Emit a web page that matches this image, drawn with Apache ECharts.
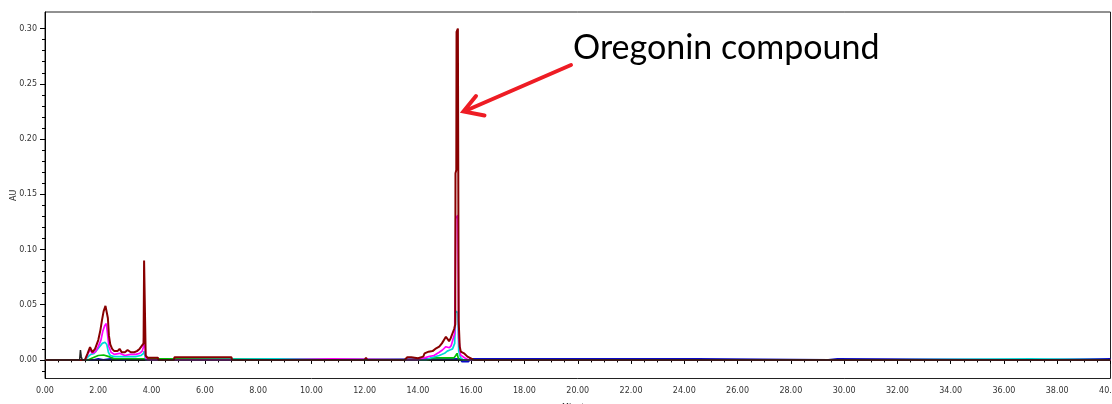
<!DOCTYPE html>
<html>
<head>
<meta charset="utf-8">
<script src="https://cdn.jsdelivr.net/npm/echarts@6/dist/echarts.min.js"></script>
<style>
html,body{margin:0;padding:0;background:#fff;}
#chart{width:1112px;height:404px;}
</style>
</head>
<body>
<div id="chart"></div>
<script>
// ---- data (minutes, AU) ----
const xTicks = [0,2,4,6,8,10,12,14,16,18,20,22,24,26,28,30,32,34,36,38,40];
const yMajorTicks = [0,0.05,0.10,0.15,0.20,0.25,0.30];
const yMinorTicks = [-0.01,0.01,0.02,0.03,0.04,0.06,0.07,0.08,0.09,0.11,0.12,0.13,0.14,0.16,0.17,0.18,0.19,0.21,0.22,0.23,0.24,0.26,0.27,0.28,0.29];

const traceBlue = [
  [0,0],[1.84,0],[1.85,0.0009],[2.0,0.0009],[2.01,0],[2.19,0],[2.2,0.0009],[2.45,0.0009],[2.46,0],
  [2.94,0],[2.95,0.0009],[3.35,0.0009],[3.36,0],[10.8,0],[10.82,0.0009],[15.6,0.0009],[15.65,-0.0015],
  [15.9,-0.0015],[15.95,0.0009],[24.5,0.0009],[24.52,0],[29.4,0],[29.42,0.0009],[29.75,0.0009],[29.77,0],
  [37.0,0],[37.02,0.0009],[40,0.0009]
];
const traceGreen = [
  [0,0],[1.6,0],[1.8,0.002],[2.0,0.004],[2.2,0.0045],[2.4,0.003],[2.6,0.001],[3.7,0.001],[3.78,0.0009],
  [4.5,0.0009],[4.52,0],[14.4,0],[14.5,0.0018],[15.35,0.0018],[15.42,0.004],[15.47,0.006],[15.52,0.001],
  [15.6,0],[37.15,0],[37.17,0.0012],[37.22,0.0012],[37.24,0],[40,0]
];
const traceCyan = [
  [0,0],[1.5,0],[1.62,0.003],[1.72,0.005],[1.85,0.006],[1.95,0.009],[2.05,0.012],[2.15,0.015],[2.25,0.016],
  [2.32,0.014],[2.38,0.007],[2.45,0.004],[2.6,0.003],[3.0,0.003],[3.4,0.003],[3.6,0.004],[3.70,0.006],
  [3.72,0.008],[3.76,0.008],[3.78,0],[4.5,0],[4.52,0.0009],[8.7,0.0009],[8.72,0],[14.3,0],[14.5,0.002],
  [14.8,0.004],[15.0,0.006],[15.1,0.008],[15.2,0.009],[15.3,0.010],[15.38,0.015],[15.42,0.044],[15.50,0.043],
  [15.53,0.008],[15.6,0.002],[15.7,0],[31.6,0],[31.62,0.0009],[31.64,0],[31.7,0],[31.72,0.0009],[37.0,0.0009],
  [37.02,0],[40,0]
];
const traceMagenta = [
  [0,0],[1.5,0],[1.6,0.005],[1.69,0.009],[1.78,0.006],[1.9,0.0075],[2.0,0.012],[2.1,0.018],[2.17,0.026],
  [2.24,0.031],[2.3,0.033],[2.34,0.025],[2.4,0.012],[2.48,0.007],[2.6,0.005],[2.8,0.006],[3.0,0.004],
  [3.2,0.005],[3.4,0.005],[3.55,0.006],[3.65,0.008],[3.70,0.012],[3.72,0.029],[3.76,0.029],[3.78,0.002],
  [3.85,0],[8.7,0],[8.72,0.0009],[10.8,0.0009],[10.82,0],[14.0,0],[14.25,0.002],[14.4,0.003],[14.6,0.004],
  [14.8,0.007],[14.92,0.009],[15.05,0.012],[15.11,0.0136],[15.18,0.011],[15.25,0.013],[15.32,0.012],
  [15.38,0.024],[15.42,0.128],[15.50,0.131],[15.53,0.02],[15.6,0.0045],[15.75,0.002],[15.9,0],[40,0]
];
const traceMaroon = [
  [0,0],[1.5,0],[1.6,0.006],[1.69,0.0115],[1.78,0.007],[1.88,0.010],[2.0,0.018],[2.08,0.027],[2.14,0.036],
  [2.2,0.044],[2.27,0.049],[2.31,0.048],[2.36,0.038],[2.4,0.022],[2.45,0.014],[2.52,0.010],[2.6,0.008],
  [2.72,0.008],[2.8,0.010],[2.88,0.007],[3.0,0.007],[3.1,0.009],[3.22,0.007],[3.35,0.007],[3.45,0.008],
  [3.55,0.010],[3.64,0.013],[3.70,0.015],[3.72,0.090],[3.76,0.090],[3.78,0.004],[3.85,0.002],[4.24,0.002],
  [4.26,0],[4.84,0],[4.86,0.0025],[7.0,0.0025],[7.02,0],[12.0,0],[12.05,0.002],[12.1,0],[13.5,0],
  [13.6,0.0025],[13.75,0.0025],[13.8,0.001],[14.0,0.0015],[14.2,0.003],[14.25,0.006],[14.4,0.0075],
  [14.55,0.008],[14.65,0.010],[14.8,0.012],[14.9,0.015],[15.0,0.019],[15.05,0.021],[15.12,0.020],
  [15.17,0.017],[15.23,0.0197],[15.3,0.018],[15.36,0.028],[15.40,0.032],[15.41,0.169],[15.44,0.172],
  [15.45,0.297],[15.50,0.300],[15.53,0.035],[15.57,0.012],[15.61,0.0075],[15.73,0.006],[15.86,0.003],
  [16.1,0],[40,0]
];
const traceBlack = [
  [0,0],[1.30,0],[1.33,0.009],[1.36,0.003],[1.40,0],[40,0]
];
const annotationText = 'Oregonin compound';

// ---- chart ----
const chart = echarts.init(document.getElementById('chart'), null, {renderer:'canvas'});
const yMin = -0.0168, yMax = 0.315;
const labelStyle = {fontSize: 8, color: '#333', fontFamily: 'DejaVu Sans'};
function line(name, data, color, width, z) {
  return {name, type:'line', data, showSymbol:false, symbol:'none', animation:false,
    lineStyle:{color, width}, itemStyle:{color}, z: z, silent:true};
}
chart.setOption({
  animation: false,
  backgroundColor: '#fff',
  grid: {left: 45, right: 1.5, top: 12, bottom: 25.5, show: true, borderColor: '#222', borderWidth: 1,
         containLabel: false, outerBoundsMode: 'none'},
  xAxis: {
    type: 'value', min: 0, max: 40, interval: 2,
    name: 'Minutes', nameLocation: 'middle', nameGap: 25, nameMoveOverlap: false,
    nameTextStyle: {fontSize: 8, color: '#333', fontFamily: 'DejaVu Sans'},
    axisLine: {lineStyle: {color: '#000', width: 1}},
    axisTick: {show: true, length: 4, lineStyle: {color: '#000'}},
    minorTick: {show: true, splitNumber: 4, length: 2.5, lineStyle: {color: '#000'}},
    axisLabel: Object.assign({margin: 8, formatter: v => v.toFixed(2), hideOverlap: false}, labelStyle),
    splitLine: {show: false}
  },
  yAxis: [{
    type: 'value', min: yMin, max: yMax, position: 'left',
    name: 'AU', nameLocation: 'middle', nameGap: 27, nameRotate: 90, nameMoveOverlap: false,
    nameTextStyle: {fontSize: 8, color: '#333', fontFamily: 'DejaVu Sans'},
    axisLine: {show: true, lineStyle: {color: '#000', width: 1}},
    axisTick: {show: true, length: 5, customValues: yMajorTicks, lineStyle: {color: '#000'}},
    axisLabel: Object.assign({margin: 8, customValues: yMajorTicks, formatter: v => v.toFixed(2)}, labelStyle),
    splitLine: {show: false}
  }, {
    type: 'value', min: yMin, max: yMax, position: 'left',
    axisLine: {show: false},
    axisTick: {show: true, length: 3, customValues: yMinorTicks, lineStyle: {color: '#000'}},
    axisLabel: {show: false},
    splitLine: {show: false}
  }],
  series: [
    line('blue', traceBlue, '#0a0ac8', 1.8, 2),
    line('green', traceGreen, '#00c000', 1.7, 3),
    line('cyan', traceCyan, '#00d8d8', 1.7, 4),
    line('magenta', traceMagenta, '#ff00ff', 1.7, 5),
    line('maroon', traceMaroon, '#880000', 2, 6),
    line('black', traceBlack, '#222', 1.5, 7)
  ],
  graphic: [
    {type: 'text', z: 100, style: {text: annotationText, x: 573, y: 48.5, font: '34px Lato', fill: '#000', verticalAlign: 'middle', align: 'left'}},
    {type: 'polyline', z: 100, shape: {points: [[571, 65], [465, 111]]}, style: {stroke: '#ee1c24', lineWidth: 4, lineCap: 'round'}},
    {type: 'polyline', z: 100, shape: {points: [[476, 96], [463.5, 111.5], [484.5, 115.5]]}, style: {stroke: '#ee1c24', lineWidth: 4, lineCap: 'round', lineJoin: 'miter', fill: null}}
  ]
});
</script>
</body>
</html>
